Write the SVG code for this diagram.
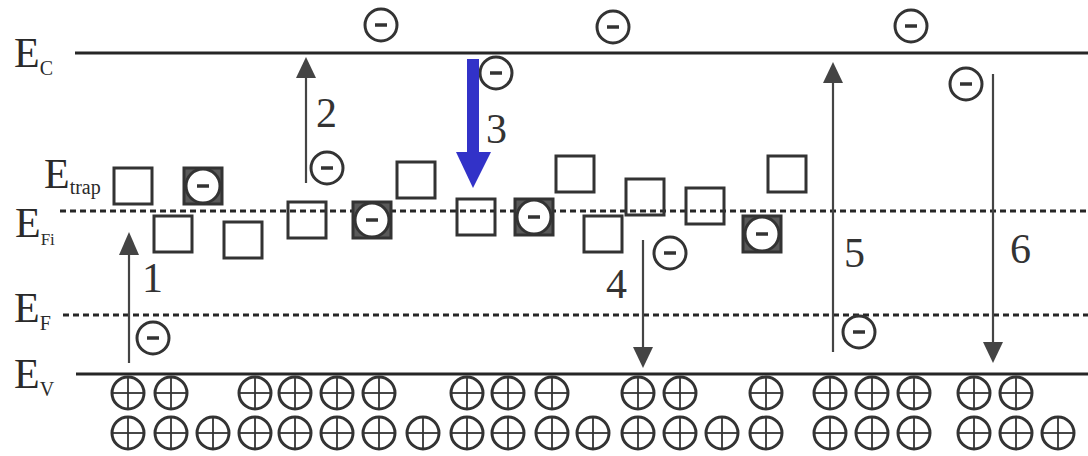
<svg xmlns="http://www.w3.org/2000/svg" xmlns:xlink="http://www.w3.org/1999/xlink" width="1088" height="456" viewBox="0 0 1088 456">
<style>
.lvl{stroke:#262626;stroke-width:3;fill:none}
.dash{stroke:#262626;stroke-width:3;stroke-dasharray:6 4;fill:none}
.trap{fill:none;stroke:#333;stroke-width:3}
.lab{font-family:"Liberation Serif","Times New Roman",serif;fill:#2a2a2a}
.big{font-size:42px}
.sub{font-size:20px}
.num{font-size:42px;fill:#333}
.ln{stroke:#444;stroke-width:2.2;fill:none}
.hd{fill:#444}
</style>
<defs>
<g id="el"><circle r="16" fill="#fff" stroke="#333" stroke-width="3"/><line x1="-6" y1="0" x2="6" y2="0" stroke="#333" stroke-width="3.5"/></g>
<g id="ho"><circle r="16" fill="none" stroke="#333" stroke-width="3"/><line x1="-16" y1="0" x2="16" y2="0" stroke="#333" stroke-width="1.8"/><line x1="0" y1="-16" x2="0" y2="16" stroke="#333" stroke-width="1.8"/></g>
<g id="ft"><rect x="-19" y="-18" width="38" height="36" fill="#5a5a5a" stroke="#333" stroke-width="3"/><circle r="17" fill="#fff" stroke="#333" stroke-width="3"/><line x1="-6" y1="0" x2="6" y2="0" stroke="#333" stroke-width="3.5"/></g>
</defs>
<rect width="1088" height="456" fill="#fff"/>

<g id="levels">
<line class="lvl" x1="75" y1="53" x2="1088" y2="53"/>
<line class="dash" x1="60" y1="211" x2="1088" y2="211"/>
<line class="dash" x1="63" y1="315" x2="1088" y2="315"/>
<line class="lvl" x1="76" y1="374" x2="1088" y2="374"/>
</g>

<g id="labels">
<text class="lab big" x="14" y="67">E<tspan class="sub" dy="8">C</tspan></text>
<text class="lab big" x="44" y="188">E<tspan class="sub" font-size="19" dy="6">trap</tspan></text>
<text class="lab big" x="15" y="237">E<tspan font-size="17" dy="8">Fi</tspan></text>
<text class="lab big" x="14" y="322">E<tspan class="sub" dy="8">F</tspan></text>
<text class="lab big" x="14" y="388">E<tspan class="sub" dy="8">V</tspan></text>
</g>

<g id="traps">
<rect class="trap" x="114" y="168" width="38" height="36"/>
<use xlink:href="#ft" x="203" y="186"/>
<rect class="trap" x="154" y="216" width="38" height="36"/>
<rect class="trap" x="224" y="222" width="38" height="36"/>
<rect class="trap" x="288" y="202" width="38" height="36"/>
<use xlink:href="#ft" x="372" y="220"/>
<rect class="trap" x="397" y="162" width="38" height="36"/>
<rect class="trap" x="457" y="199" width="38" height="36"/>
<use xlink:href="#ft" x="534" y="217"/>
<rect class="trap" x="556" y="156" width="38" height="36"/>
<rect class="trap" x="584" y="216" width="38" height="36"/>
<rect class="trap" x="626" y="179" width="38" height="36"/>
<rect class="trap" x="686" y="188" width="38" height="36"/>
<rect class="trap" x="768" y="156" width="38" height="36"/>
<use xlink:href="#ft" x="762" y="234"/>
</g>

<g id="electrons">
<use xlink:href="#el" x="381" y="25"/>
<use xlink:href="#el" x="613" y="27"/>
<use xlink:href="#el" x="911" y="26"/>
<use xlink:href="#el" x="496" y="73"/>
<use xlink:href="#el" x="966" y="84"/>
<use xlink:href="#el" x="327" y="168"/>
<use xlink:href="#el" x="670" y="253"/>
<use xlink:href="#el" x="153" y="338"/>
<use xlink:href="#el" x="859" y="332"/>
</g>

<g id="holes">
<use xlink:href="#ho" x="128" y="393"/><use xlink:href="#ho" x="171" y="393"/>
<use xlink:href="#ho" x="255" y="393"/><use xlink:href="#ho" x="295" y="393"/><use xlink:href="#ho" x="337" y="393"/><use xlink:href="#ho" x="379" y="393"/>
<use xlink:href="#ho" x="467" y="393"/><use xlink:href="#ho" x="508" y="393"/><use xlink:href="#ho" x="552" y="393"/>
<use xlink:href="#ho" x="638" y="393"/><use xlink:href="#ho" x="680" y="393"/>
<use xlink:href="#ho" x="766" y="393"/>
<use xlink:href="#ho" x="830" y="393"/><use xlink:href="#ho" x="872" y="393"/><use xlink:href="#ho" x="914" y="393"/>
<use xlink:href="#ho" x="974" y="393"/><use xlink:href="#ho" x="1016" y="393"/>

<use xlink:href="#ho" x="128" y="433"/><use xlink:href="#ho" x="171" y="433"/><use xlink:href="#ho" x="213" y="433"/><use xlink:href="#ho" x="255" y="433"/><use xlink:href="#ho" x="295" y="433"/><use xlink:href="#ho" x="337" y="433"/><use xlink:href="#ho" x="379" y="433"/><use xlink:href="#ho" x="423" y="433"/><use xlink:href="#ho" x="467" y="433"/><use xlink:href="#ho" x="508" y="433"/><use xlink:href="#ho" x="552" y="433"/><use xlink:href="#ho" x="593" y="433"/><use xlink:href="#ho" x="638" y="433"/><use xlink:href="#ho" x="680" y="433"/><use xlink:href="#ho" x="722" y="433"/><use xlink:href="#ho" x="766" y="433"/>
<use xlink:href="#ho" x="830" y="433"/><use xlink:href="#ho" x="872" y="433"/><use xlink:href="#ho" x="914" y="433"/>
<use xlink:href="#ho" x="974" y="433"/><use xlink:href="#ho" x="1016" y="433"/><use xlink:href="#ho" x="1058" y="433"/>
</g>

<g id="connectors">
<line class="ln" x1="129" y1="363" x2="129" y2="254"/><polygon class="hd" points="119,255 139,255 129,232"/>
<line class="ln" x1="306" y1="183" x2="306" y2="77"/><polygon class="hd" points="296,78 316,78 306,57"/>
<rect x="467" y="59" width="12" height="94" fill="#3232c8"/><polygon points="456,152 491,152 473,188" fill="#3232c8"/>
<line class="ln" x1="643" y1="240" x2="643" y2="348"/><polygon class="hd" points="633,347 653,347 643,368"/>
<line class="ln" x1="833" y1="352" x2="833" y2="82"/><polygon class="hd" points="823,83 843,83 833,62"/>
<line class="ln" x1="993" y1="74" x2="993" y2="343"/><polygon class="hd" points="983,342 1003,342 993,363"/>
</g>

<g id="numbers">
<text class="lab num" x="142" y="292">1</text>
<text class="lab num" x="316" y="127">2</text>
<text class="lab num" x="486" y="143">3</text>
<text class="lab num" x="606" y="298">4</text>
<text class="lab num" x="844" y="267">5</text>
<text class="lab num" x="1010" y="263">6</text>
</g>
</svg>
